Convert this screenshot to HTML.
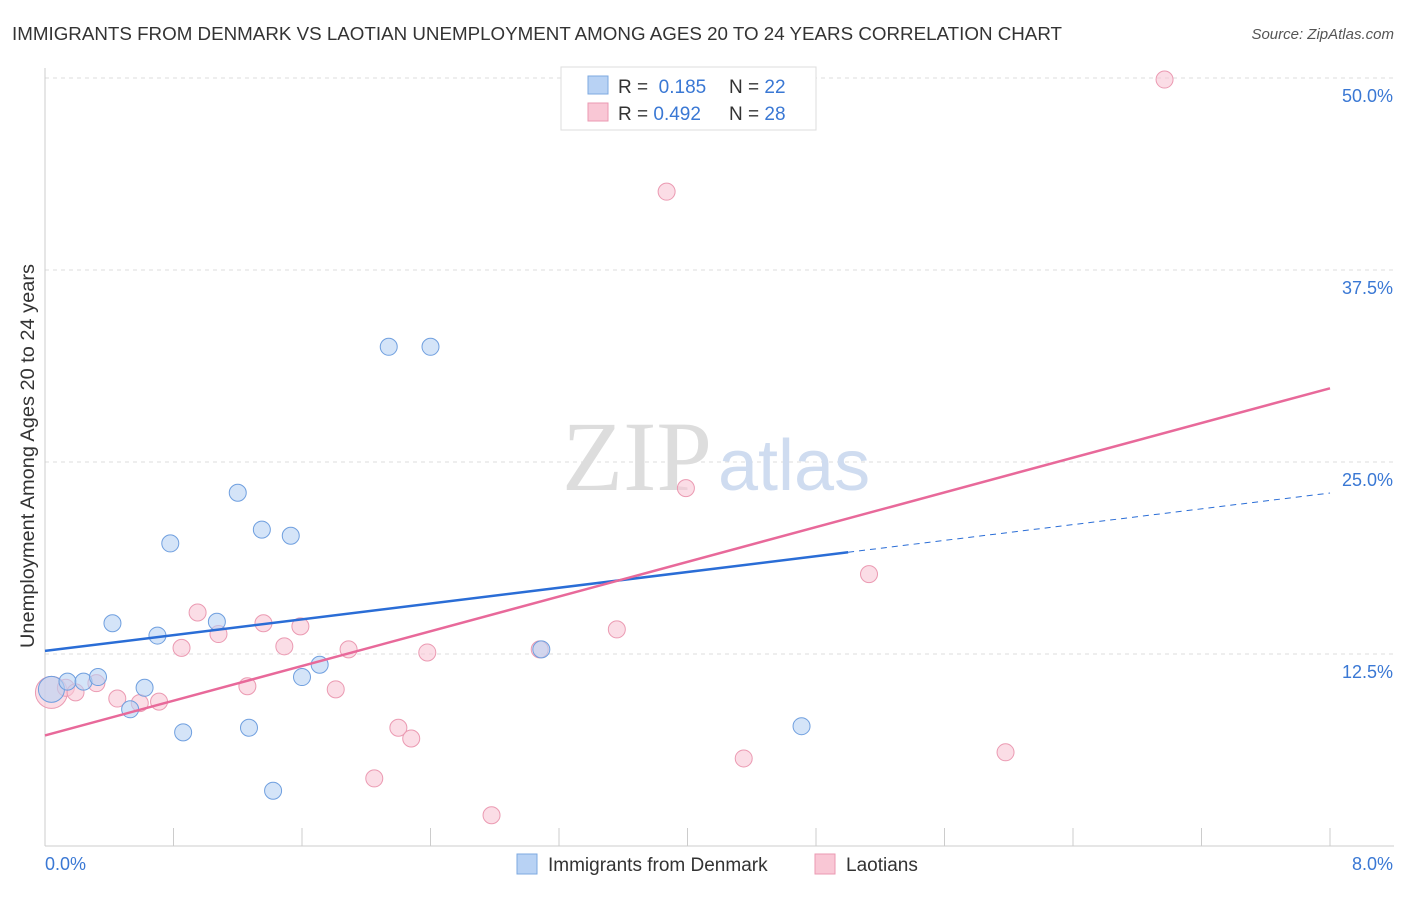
<!DOCTYPE html>
<html><head><meta charset="utf-8"><style>
body{margin:0;background:#fff;font-family:"Liberation Sans",sans-serif;}
svg text{font-family:"Liberation Sans",sans-serif;}
</style></head><body>
<svg id="chart" width="1406" height="892" viewBox="0 0 1406 892">
<text x="12" y="40" font-size="18" fill="#333" textLength="1050" lengthAdjust="spacingAndGlyphs">IMMIGRANTS FROM DENMARK VS LAOTIAN UNEMPLOYMENT AMONG AGES 20 TO 24 YEARS CORRELATION CHART</text>
<text x="1394" y="39" font-size="15" fill="#555" text-anchor="end" font-style="italic">Source: ZipAtlas.com</text>
<g id="grid"></g>
<text x="712" y="490" font-size="100" fill="#ddd" text-anchor="end" style="font-family:'Liberation Serif',serif">ZIP</text>
<text x="718" y="490" font-size="72" fill="#cfdcf0">atlas</text>
<g id="marks"></g>
<text x="34" y="456" font-size="19" fill="#333" text-anchor="middle" transform="rotate(-90 34 456)" textLength="384" lengthAdjust="spacingAndGlyphs">Unemployment Among Ages 20 to 24 years</text>
<g>
<rect x="561" y="67" width="255" height="63" fill="#fff" stroke="#ddd"/>
<rect x="588" y="76" width="20" height="18" fill="#b8d2f4" stroke="#7ea9e0"/>
<rect x="588" y="103" width="20" height="18" fill="#f9c7d5" stroke="#eb9ab2"/>
<text x="618" y="93" font-size="19" fill="#333">R = <tspan fill="#3a78d4">&#160;0.185</tspan><tspan x="729">N = </tspan><tspan fill="#3a78d4">22</tspan></text>
<text x="618" y="120" font-size="19" fill="#333">R = <tspan fill="#3a78d4">0.492</tspan><tspan x="729">N = </tspan><tspan fill="#3a78d4">28</tspan></text>
</g>
<g>
<rect x="517" y="854" width="20" height="20" fill="#b8d2f4" stroke="#7ea9e0"/>
<text x="548" y="871" font-size="19" fill="#333">Immigrants from Denmark</text>
<rect x="815" y="854" width="20" height="20" fill="#f9c7d5" stroke="#eb9ab2"/>
<text x="846" y="871" font-size="19" fill="#333">Laotians</text>
</g>
</svg>
<script>
const blueX=[0.04,0.14,0.24,0.33,0.42,0.53,0.62,0.70,0.78,0.86,1.07,1.20,1.27,1.35,1.42,1.53,1.60,1.71,2.14,2.40,3.09,4.71];
const blueY=[10.2,10.7,10.7,11.0,14.5,8.9,10.3,13.7,19.7,7.4,14.6,23.0,7.7,20.6,3.6,20.2,11.0,11.8,32.5,32.5,12.8,7.8];
const pinkX=[0.04,0.13,0.19,0.32,0.45,0.59,0.71,0.85,0.95,1.08,1.26,1.36,1.49,1.59,1.81,1.89,2.05,2.20,2.28,2.38,2.78,3.08,3.56,3.87,3.99,4.35,5.13,5.98,6.97];
const pinkY=[10.0,10.3,10.0,10.6,9.6,9.3,9.4,12.9,15.2,13.8,10.4,14.5,13.0,14.3,10.2,12.8,4.4,7.7,7.0,12.6,2.0,12.8,14.1,42.6,23.3,5.7,17.7,6.1,49.9];
const blueTrend=[12.7,22.98]; // y at x=0 and x=8
const pinkTrend=[7.2,29.8];
const yTicks=[12.5,25.0,37.5,50.0];
const yTickLabels=["12.5%","25.0%","37.5%","50.0%"];
const xTickLabels=["0.0%","8.0%"];
const NS="http://www.w3.org/2000/svg";
const X=v=>45+v*(1285/8), Y=v=>846-v*15.36;
function mk(t,a,p){const e=document.createElementNS(NS,t);for(const k in a)e.setAttribute(k,a[k]);p.appendChild(e);return e;}
const g=document.getElementById('grid'), m=document.getElementById('marks');
yTicks.forEach((t,i)=>{
 const l=mk('line',{x1:45,x2:1394,y1:Y(t),y2:Y(t),stroke:'#ddd','stroke-dasharray':'4 4'},g);
 
 
 const tx=mk('text',{x:1393,y:Y(t)+24,'font-size':18,fill:'#3a78d4','text-anchor':'end'},g);tx.textContent=yTickLabels[i];
 
 
});
const ax=mk('line',{x1:45,x2:1394,y1:846,y2:846,stroke:'#ccc'},g);


const ay=mk('line',{x1:45,x2:45,y1:68,y2:846,stroke:'#ccc'},g);


for(let i=1;i<=10;i++){const x=45+i*128.5;const t=mk('line',{x1:x,x2:x,y1:828,y2:846,stroke:'#ccc'},g);
 
 }
[[xTickLabels[0],45,'start'],[xTickLabels[1],1393,'end']].forEach(([s,x,a])=>{const t=mk('text',{x:x,y:870,'font-size':18,fill:'#3a78d4','text-anchor':a},g);t.textContent=s;
 
 });
function pts(xs,ys,fill,stroke,name){xs.forEach((x,i)=>{const r=(i===0)?(name==='laotian-point'?16:13):8.5;
 const c=mk('circle',{cx:X(x),cy:Y(ys[i]),r:r,fill:fill,'fill-opacity':0.6,stroke:stroke,'stroke-width':1},m);
 
 });}
pts(pinkX,pinkY,'#f9c7d5','#eb9ab2','laotian-point');
pts(blueX,blueY,'#b8d2f4','#6f9fdf','denmark-point');
const bAt=x=>blueTrend[0]+(blueTrend[1]-blueTrend[0])*x/8, pAt=x=>pinkTrend[0]+(pinkTrend[1]-pinkTrend[0])*x/8;
const bl=mk('line',{x1:X(0),y1:Y(bAt(0)),x2:X(5),y2:Y(bAt(5)),stroke:'#2a6dd6','stroke-width':2.5},m);


const bd=mk('line',{x1:X(5),y1:Y(bAt(5)),x2:X(8),y2:Y(bAt(8)),stroke:'#2a6dd6','stroke-width':1,'stroke-dasharray':'6 5'},m);


const pl=mk('line',{x1:X(0),y1:Y(pAt(0)),x2:X(8),y2:Y(pAt(8)),stroke:'#e8699a','stroke-width':2.5},m);


</script>
</body></html>
